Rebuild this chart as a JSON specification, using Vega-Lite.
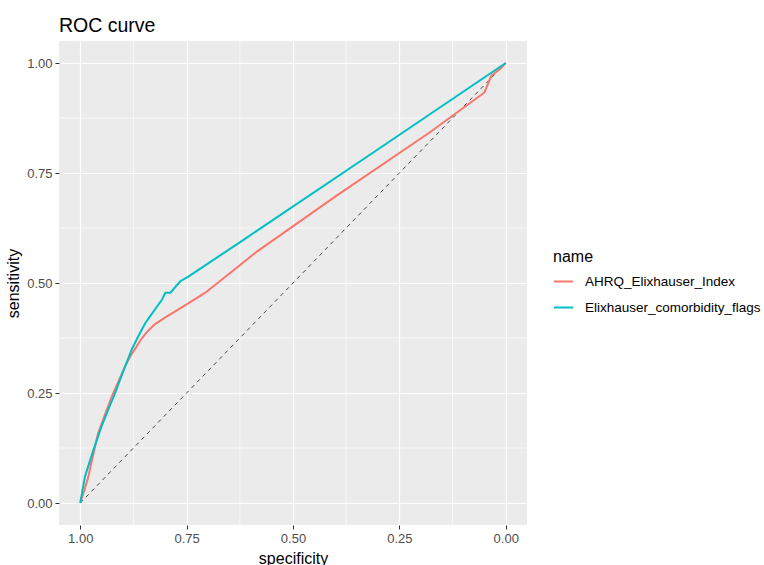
{
  "$schema": "https://vega.github.io/schema/vega-lite/v6.json",
  "width": 468,
  "height": 484,
  "autosize": {"type": "none"},
  "padding": {"left": 59, "top": 41, "right": 237, "bottom": 40},
  "background": "white",
  "title": {
    "text": "ROC curve",
    "anchor": "start",
    "frame": "group",
    "baseline": "alphabetic",
    "offset": 10,
    "dy": 21,
    "fontSize": 19.5,
    "fontWeight": "normal",
    "font": "Liberation Sans",
    "color": "black"
  },
  "config": {
    "font": "Liberation Sans",
    "view": {"fill": "#EBEBEB", "stroke": null},
    "axis": {
      "domain": false,
      "gridColor": "white",
      "gridWidth": 1.2,
      "tickColor": "#333333",
      "tickSize": 4,
      "tickWidth": 1,
      "labelColor": "#4D4D4D",
      "labelFontSize": 13,
      "labelPadding": 3,
      "titleFontSize": 16,
      "titleFontWeight": "normal",
      "titleColor": "black"
    },
    "legend": {
      "orient": "none",
      "legendX": 494,
      "legendY": 208,
      "padding": 0,
      "titleFontSize": 16,
      "titleFontWeight": "normal",
      "titleColor": "black",
      "titlePadding": 6,
      "labelFontSize": 13.5,
      "labelColor": "black",
      "labelOffset": 11,
      "labelLimit": 0,
      "symbolType": "stroke",
      "symbolSize": 361,
      "symbolStrokeWidth": 2,
      "rowPadding": 9
    }
  },
  "data": {
    "values": [
      {"name": "AHRQ_Elixhauser_Index", "specificity": 1.000, "sensitivity": 0.000},
      {"name": "AHRQ_Elixhauser_Index", "specificity": 0.990, "sensitivity": 0.030},
      {"name": "AHRQ_Elixhauser_Index", "specificity": 0.981, "sensitivity": 0.060},
      {"name": "AHRQ_Elixhauser_Index", "specificity": 0.970, "sensitivity": 0.108},
      {"name": "AHRQ_Elixhauser_Index", "specificity": 0.958, "sensitivity": 0.159},
      {"name": "AHRQ_Elixhauser_Index", "specificity": 0.941, "sensitivity": 0.203},
      {"name": "AHRQ_Elixhauser_Index", "specificity": 0.926, "sensitivity": 0.242},
      {"name": "AHRQ_Elixhauser_Index", "specificity": 0.910, "sensitivity": 0.277},
      {"name": "AHRQ_Elixhauser_Index", "specificity": 0.895, "sensitivity": 0.310},
      {"name": "AHRQ_Elixhauser_Index", "specificity": 0.882, "sensitivity": 0.334},
      {"name": "AHRQ_Elixhauser_Index", "specificity": 0.870, "sensitivity": 0.352},
      {"name": "AHRQ_Elixhauser_Index", "specificity": 0.858, "sensitivity": 0.371},
      {"name": "AHRQ_Elixhauser_Index", "specificity": 0.843, "sensitivity": 0.389},
      {"name": "AHRQ_Elixhauser_Index", "specificity": 0.825, "sensitivity": 0.406},
      {"name": "AHRQ_Elixhauser_Index", "specificity": 0.800, "sensitivity": 0.422},
      {"name": "AHRQ_Elixhauser_Index", "specificity": 0.769, "sensitivity": 0.440},
      {"name": "AHRQ_Elixhauser_Index", "specificity": 0.706, "sensitivity": 0.478},
      {"name": "AHRQ_Elixhauser_Index", "specificity": 0.584, "sensitivity": 0.572},
      {"name": "AHRQ_Elixhauser_Index", "specificity": 0.400, "sensitivity": 0.697},
      {"name": "AHRQ_Elixhauser_Index", "specificity": 0.179, "sensitivity": 0.842},
      {"name": "AHRQ_Elixhauser_Index", "specificity": 0.050, "sensitivity": 0.933},
      {"name": "AHRQ_Elixhauser_Index", "specificity": 0.034, "sensitivity": 0.971},
      {"name": "AHRQ_Elixhauser_Index", "specificity": 0.014, "sensitivity": 0.986},
      {"name": "AHRQ_Elixhauser_Index", "specificity": 0.000, "sensitivity": 1.000},
      {"name": "Elixhauser_comorbidity_flags", "specificity": 1.000, "sensitivity": 0.000},
      {"name": "Elixhauser_comorbidity_flags", "specificity": 0.995, "sensitivity": 0.028},
      {"name": "Elixhauser_comorbidity_flags", "specificity": 0.989, "sensitivity": 0.060},
      {"name": "Elixhauser_comorbidity_flags", "specificity": 0.970, "sensitivity": 0.118},
      {"name": "Elixhauser_comorbidity_flags", "specificity": 0.950, "sensitivity": 0.174},
      {"name": "Elixhauser_comorbidity_flags", "specificity": 0.934, "sensitivity": 0.213},
      {"name": "Elixhauser_comorbidity_flags", "specificity": 0.918, "sensitivity": 0.250},
      {"name": "Elixhauser_comorbidity_flags", "specificity": 0.898, "sensitivity": 0.302},
      {"name": "Elixhauser_comorbidity_flags", "specificity": 0.879, "sensitivity": 0.349},
      {"name": "Elixhauser_comorbidity_flags", "specificity": 0.863, "sensitivity": 0.380},
      {"name": "Elixhauser_comorbidity_flags", "specificity": 0.847, "sensitivity": 0.409},
      {"name": "Elixhauser_comorbidity_flags", "specificity": 0.836, "sensitivity": 0.424},
      {"name": "Elixhauser_comorbidity_flags", "specificity": 0.820, "sensitivity": 0.446},
      {"name": "Elixhauser_comorbidity_flags", "specificity": 0.808, "sensitivity": 0.462},
      {"name": "Elixhauser_comorbidity_flags", "specificity": 0.800, "sensitivity": 0.478},
      {"name": "Elixhauser_comorbidity_flags", "specificity": 0.788, "sensitivity": 0.478},
      {"name": "Elixhauser_comorbidity_flags", "specificity": 0.765, "sensitivity": 0.504},
      {"name": "Elixhauser_comorbidity_flags", "specificity": 0.745, "sensitivity": 0.515},
      {"name": "Elixhauser_comorbidity_flags", "specificity": 0.612, "sensitivity": 0.601},
      {"name": "Elixhauser_comorbidity_flags", "specificity": 0.300, "sensitivity": 0.804},
      {"name": "Elixhauser_comorbidity_flags", "specificity": 0.000, "sensitivity": 1.000}
    ]
  },
  "layer": [
    {
      "data": {"values": [{"specificity": 0.125}, {"specificity": 0.375}, {"specificity": 0.625}, {"specificity": 0.875}]},
      "mark": {"type": "rule", "color": "white", "strokeWidth": 0.6},
      "encoding": {
        "x": {"field": "specificity", "type": "quantitative",
              "scale": {"domain": [-0.05, 1.05], "reverse": true, "nice": false, "zero": false}}
      }
    },
    {
      "data": {"values": [{"sensitivity": 0.125}, {"sensitivity": 0.375}, {"sensitivity": 0.625}, {"sensitivity": 0.875}]},
      "mark": {"type": "rule", "color": "white", "strokeWidth": 0.6},
      "encoding": {
        "y": {"field": "sensitivity", "type": "quantitative",
              "scale": {"domain": [-0.05, 1.05], "nice": false, "zero": false}}
      }
    },
    {
      "data": {"values": [{"specificity": 1, "sensitivity": 0}, {"specificity": 0, "sensitivity": 1}]},
      "mark": {"type": "line", "color": "black", "strokeWidth": 0.7, "strokeDash": [4, 4]},
      "encoding": {
        "x": {"field": "specificity", "type": "quantitative",
              "scale": {"domain": [-0.05, 1.05], "reverse": true, "nice": false, "zero": false}},
        "y": {"field": "sensitivity", "type": "quantitative",
              "scale": {"domain": [-0.05, 1.05], "nice": false, "zero": false}}
      }
    },
    {
      "mark": {"type": "line", "strokeWidth": 2},
      "encoding": {
        "x": {"field": "specificity", "type": "quantitative",
              "scale": {"domain": [-0.05, 1.05], "reverse": true, "nice": false, "zero": false},
              "axis": {"values": [0, 0.25, 0.5, 0.75, 1], "format": ".2f", "title": "specificity", "titlePadding": 5}},
        "y": {"field": "sensitivity", "type": "quantitative",
              "scale": {"domain": [-0.05, 1.05], "nice": false, "zero": false},
              "axis": {"values": [0, 0.25, 0.5, 0.75, 1], "format": ".2f", "title": "sensitivity", "titlePadding": 5}},
        "color": {"field": "name", "type": "nominal", "title": "name",
                  "scale": {"domain": ["AHRQ_Elixhauser_Index", "Elixhauser_comorbidity_flags"], "range": ["#F8766D", "#00BFC4"]}}
      }
    }
  ]
}
